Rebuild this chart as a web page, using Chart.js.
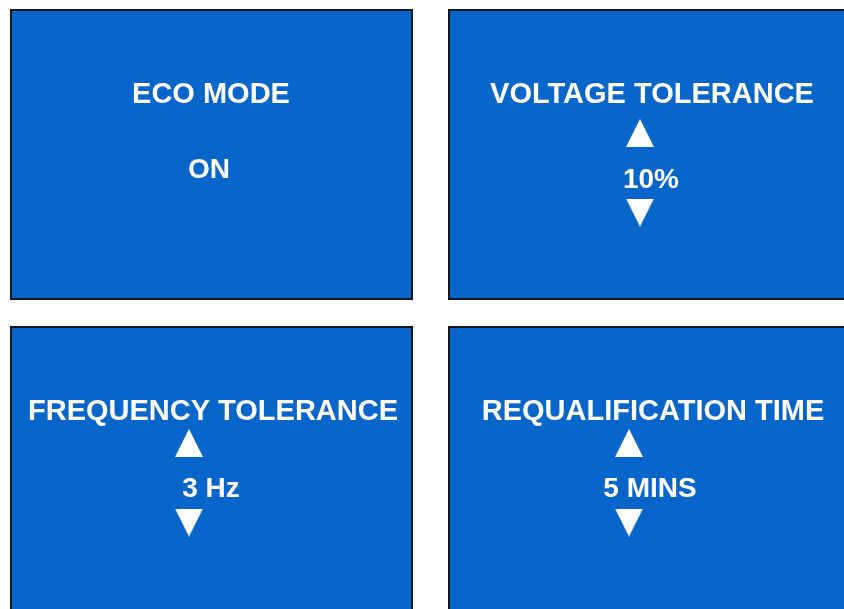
<!DOCTYPE html>
<html>
<head>
<meta charset="utf-8">
<script src="https://cdn.jsdelivr.net/npm/chart.js@4.4.1/dist/chart.umd.min.js"></script>
<style>
  html, body { margin: 0; padding: 0; background: #ffffff; }
  canvas { display: block; }
</style>
</head>
<body>
<canvas id="panelChart" width="844" height="609"></canvas>
<script>
// ---------- DATA ----------
const panelTitles = ["ECO MODE", "VOLTAGE TOLERANCE", "FREQUENCY TOLERANCE", "REQUALIFICATION TIME"];
const panelValues = ["ON", "10%", "3 Hz", "5 MINS"];
const panelHasArrows = [false, true, true, true];

// ---------- LAYOUT (scale units = page pixels) ----------
const panelLeft = [11, 449, 11, 449];
const panelTop = [10, 10, 327, 327];
const panelW = 401;
const panelH = 289;
const titleX = [211, 652, 213, 653];
const valueX = [209, 651, 211, 650];
const arrowX = [0, 640, 189, 629];
const rowY = [
    { title: 92.5, up: 133, value: 177.5, down: 212.5, plain: 168 },
    { title: 410, up: 443, value: 486.5, down: 522.5, plain: 486.5 }
];

const PANEL_FILL = "#0866cb";
const PANEL_EDGE = "#121722";
const FONT = '"Liberation Sans", Arial, sans-serif';

function rowOf(i) { return i < 2 ? 0 : 1; }

// triangle markers as small canvases
function makeTriangle(up) {
    const c = document.createElement("canvas");
    c.width = 28; c.height = 28;
    const g = c.getContext("2d");
    g.fillStyle = "#ffffff";
    g.beginPath();
    if (up) { g.moveTo(0, 28); g.lineTo(14, 0); g.lineTo(28, 28); }
    else { g.moveTo(0, 0); g.lineTo(28, 0); g.lineTo(14, 28); }
    g.closePath();
    g.fill();
    return c;
}

const upPoints = [];
const downPoints = [];
panelHasArrows.forEach((has, i) => {
    if (!has) return;
    const r = rowY[rowOf(i)];
    upPoints.push({ x: arrowX[i], y: r.up });
    downPoints.push({ x: arrowX[i], y: r.down });
});

const panelPlugin = {
    id: "panels",
    beforeDatasetsDraw(chart) {
        const { ctx, scales: { x, y } } = chart;
        ctx.save();
        panelTitles.forEach((t, i) => {
            const x0 = x.getPixelForValue(panelLeft[i]);
            const x1 = x.getPixelForValue(panelLeft[i] + panelW);
            const y0 = y.getPixelForValue(panelTop[i]);
            const y1 = y.getPixelForValue(panelTop[i] + panelH);
            ctx.fillStyle = PANEL_FILL;
            ctx.fillRect(x0, y0, x1 - x0, y1 - y0);
            ctx.strokeStyle = PANEL_EDGE;
            ctx.lineWidth = 2;
            ctx.strokeRect(x0, y0, x1 - x0, y1 - y0);
        });
        ctx.restore();
    },
    afterDatasetsDraw(chart) {
        const { ctx, scales: { x, y } } = chart;
        ctx.save();
        ctx.fillStyle = "#ffffff";
        ctx.textAlign = "center";
        ctx.textBaseline = "alphabetic";
        panelTitles.forEach((t, i) => {
            const r = rowY[rowOf(i)];
            ctx.font = "bold 29px " + FONT;
            ctx.fillText(t, x.getPixelForValue(titleX[i]), y.getPixelForValue(r.title) + 29 * 0.358);
            const vy = panelHasArrows[i] ? r.value : r.plain;
            ctx.font = "bold 28px " + FONT;
            ctx.fillText(panelValues[i], x.getPixelForValue(valueX[i]), y.getPixelForValue(vy) + 28 * 0.358);
        });
        ctx.restore();
    }
};

new Chart(document.getElementById("panelChart"), {
    type: "scatter",
    data: {
        datasets: [
            { label: "up", data: upPoints, pointStyle: makeTriangle(true), pointRadius: 14 },
            { label: "down", data: downPoints, pointStyle: makeTriangle(false), pointRadius: 14 }
        ]
    },
    options: {
        responsive: false,
        animation: false,
        devicePixelRatio: 1,
        events: [],
        layout: { padding: 0, autoPadding: false },
        scales: {
            x: { type: "linear", min: 0, max: 844, display: false },
            y: { type: "linear", min: 0, max: 609, reverse: true, display: false }
        },
        plugins: {
            legend: { display: false },
            tooltip: { enabled: false }
        }
    },
    plugins: [panelPlugin]
});
</script>
</body>
</html>
